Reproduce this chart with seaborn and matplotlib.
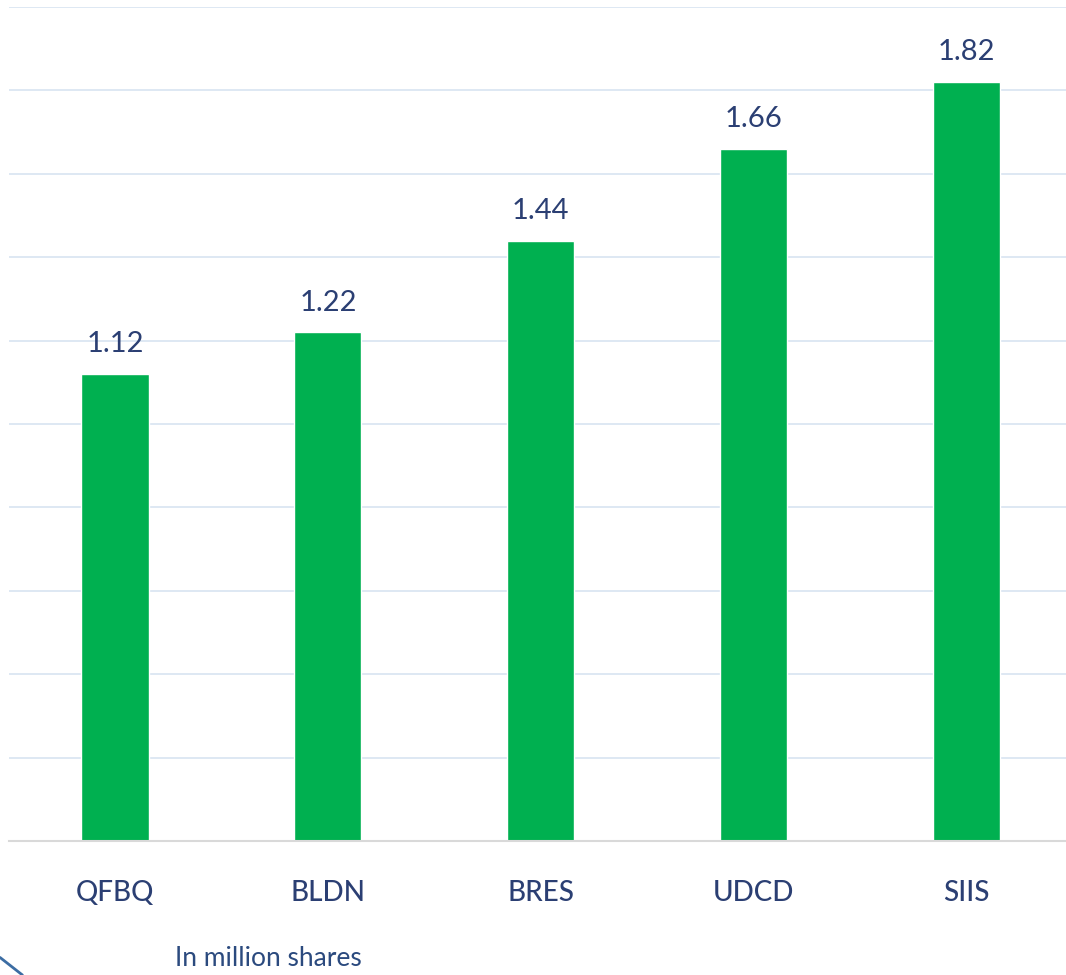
import matplotlib
matplotlib.use("Agg")
import matplotlib.pyplot as plt
import seaborn as sns
import pandas as pd
from matplotlib.lines import Line2D

# data
tickers = ["QFBQ", "BLDN", "BRES", "UDCD", "SIIS"]
volumes = [1.12, 1.22, 1.44, 1.66, 1.82]
y_ticks = [0.0, 0.2, 0.4, 0.6, 0.8, 1.0, 1.2, 1.4, 1.6, 1.8, 2.0]

df = pd.DataFrame({"ticker": tickers, "volume": volumes})

sns.set_theme(style="white")
plt.rcParams["font.family"] = ["Lato", "DejaVu Sans"]

label_color = "#2B3F73"
fig = plt.figure(figsize=(10.66, 9.75), dpi=100)
ax = fig.add_axes([0.008, 0.1374, 0.992, 0.8554])

sns.barplot(data=df, x="ticker", y="volume", color="#00B050", saturation=1,
            width=0.315, ax=ax)

ax.set_ylim(0, 2.0)
ax.set_xlim(-0.5, 4.467)
ax.set_yticks(y_ticks)
ax.yaxis.grid(True, color="#DBE6F2", linewidth=1.3)
ax.set_axisbelow(True)
ax.tick_params(axis="y", left=False, labelleft=False)
ax.tick_params(axis="x", bottom=False, labelsize=20, labelcolor=label_color, pad=22)
for lbl in ax.get_xticklabels():
    lbl.set_fontweight("medium")
ax.set_xlabel("")
ax.set_ylabel("")
for side in ["top", "right", "left"]:
    ax.spines[side].set_visible(False)
ax.spines["bottom"].set_color("#D9D9D9")
ax.spines["bottom"].set_linewidth(1.5)

for i, v in enumerate(volumes):
    ax.annotate(f"{v:.2f}", xy=(i, v), xytext=(0, 12), textcoords="offset points",
                ha="center", va="bottom", fontsize=21, color=label_color)

fig.text(0.164, 0.004, "In million shares", fontsize=19, color="#2B4A7E", ha="left", va="bottom")

# decorative corner stroke
fig.add_artist(Line2D([0.0, 0.021], [0.018, 0.0], transform=fig.transFigure,
                      color="#3C6DA3", linewidth=2))

fig.savefig("out.png", dpi=100)
